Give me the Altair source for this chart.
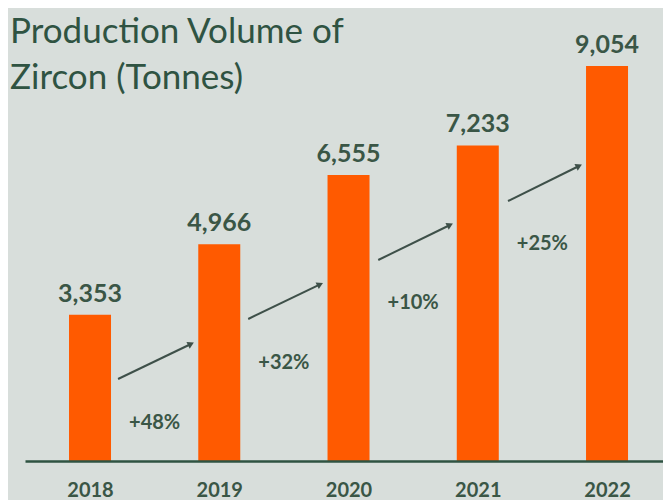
import json
import altair as alt
import pandas as pd

# ---- data ----
years = ["2018", "2019", "2020", "2021", "2022"]
volumes = [3353, 4966, 6555, 7233, 9054]
value_labels = ["3,353", "4,966", "6,555", "7,233", "9,054"]

growth_labels = ["+48%", "+32%", "+10%", "+25%"]
growth_label_x = [0.5, 1.5, 2.5, 3.5]
growth_label_level = [880, 2240, 3615, 4975]

arrow_x_start = [0.217, 1.224, 2.23, 3.234]
arrow_x_end = [0.781, 1.78, 2.785, 3.783]
arrow_y_start = [1879, 3255, 4607, 5959]
arrow_y_end = [2682, 4050, 5409, 6762]

title_lines = ["Production Volume of", "Zircon (Tonnes)"]

# ---- styles ----
BG = "#d8dedb"
BAR = "#ff5a00"
TEXT = "#3a5646"
TITLE = "#2f5342"
ARROW = "#3e5049"
FONT = "Lato"

bars_df = pd.DataFrame({"x": list(range(len(years))), "y": volumes, "label": value_labels})
growth_df = pd.DataFrame({"x": growth_label_x, "y": growth_label_level, "label": growth_labels})
arrow_df = pd.DataFrame({"x": arrow_x_start, "x2": arrow_x_end, "y": arrow_y_start, "y2": arrow_y_end})

xscale = alt.Scale(domain=[-0.503, 4.433], nice=False, zero=False, padding=0)
yscale = alt.Scale(domain=[0, 10383], nice=False, zero=True, padding=0)
xaxis = alt.Axis(
    values=list(range(len(years))),
    labelExpr=f"{json.dumps(years)}[datum.value]",
    title=None,
    ticks=False,
    grid=False,
    domainColor=TITLE,
    domainWidth=2.5,
    labelFont=FONT,
    labelFontSize=20,
    labelFontWeight="bold",
    labelColor=TEXT,
    labelPadding=19,
    zindex=1,
)


def X(field="x"):
    return alt.X(f"{field}:Q", scale=xscale, axis=xaxis)


def Y(field="y"):
    return alt.Y(f"{field}:Q", scale=yscale, axis=None)


bars = alt.Chart(bars_df).mark_bar(size=42, color=BAR).encode(x=X(), y=Y())

values = alt.Chart(bars_df).mark_text(
    baseline="alphabetic", dy=-13, font=FONT, fontSize=25, fontWeight="bold", color=TEXT
).encode(x=X(), y=Y(), text="label:N")

growth = alt.Chart(growth_df).mark_text(
    baseline="middle", font=FONT, fontSize=20, fontWeight="bold", color=TEXT
).encode(x=X(), y=Y(), text="label:N")

arrows = alt.Chart(arrow_df).mark_rule(color=ARROW, strokeWidth=2).encode(
    x=X(), x2="x2:Q", y=Y(), y2="y2:Q"
)

heads = alt.Chart(arrow_df).mark_point(
    shape="triangle-right", filled=True, size=55, angle=334, color=ARROW, opacity=1
).encode(x=X("x2"), y=Y("y2"))

title = alt.Chart(pd.DataFrame({"t": [0]})).mark_text(
    text=title_lines,
    align="left",
    baseline="alphabetic",
    font=FONT,
    fontSize=35,
    lineHeight=46,
    color=TITLE,
).encode(x=alt.value(-15), y=alt.value(35))

chart = (
    alt.layer(bars, arrows, heads, values, growth, title)
    .properties(
        width=638,
        height=453,
        padding={"left": 2, "top": 0, "right": 0, "bottom": 0},
        background=BG,
    )
    .configure_view(stroke=None)
)

chart.save("out.html", embed_options={"renderer": "svg", "actions": False})
